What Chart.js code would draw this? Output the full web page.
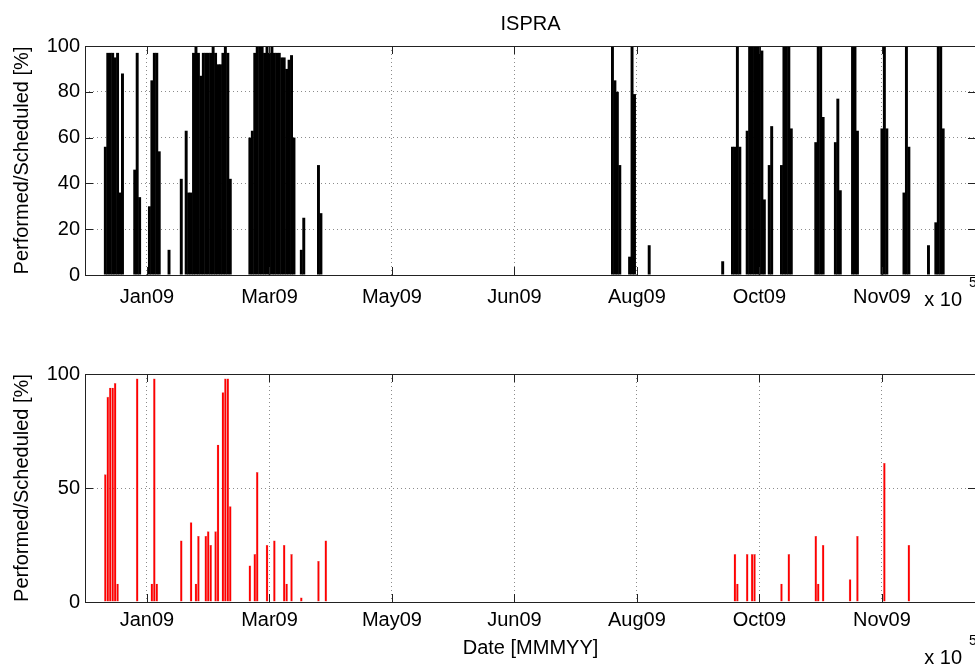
<!DOCTYPE html>
<html>
<head>
<meta charset="utf-8">
<title>ISPRA</title>
<script src="https://cdn.jsdelivr.net/npm/chart.js@4.4.1/dist/chart.umd.min.js"></script>
<style>
    html, body { margin: 0; padding: 0; background: #fff; overflow: hidden; }
    body { width: 975px; height: 668px; position: relative; }
    canvas { position: absolute; left: 0; }
    #performedChart { top: 0; }
    #successChart { top: 330px; }
</style>
</head>
<body>
<canvas id="performedChart" width="980" height="330"></canvas>
<canvas id="successChart" width="980" height="338"></canvas>
<script>
// MATLAB datenum of 31 Dec 2008, so day 1 of 2009 = JAN0 + 1
const JAN0 = 733773;
const X_MIN = 733774.7;
const X_MAX = 734138.4;

// datetick positions (every 50 days) and their labels
const xTickValues = [733800, 733850, 733900, 733950, 734000, 734050, 734100];
const xTickLabels = ['Jan09', 'Mar09', 'May09', 'Jun09', 'Aug09', 'Oct09', 'Nov09'];

// upper panel: day of year and performed/scheduled [%]
const topDays = [10, 11, 12, 13, 14, 15, 16, 17,
    22, 23, 24,
    28, 29, 30, 31, 32,
    36, 41, 43, 44, 45,
    46, 47, 48, 49, 50, 51, 52, 53, 54, 55, 56, 57, 58, 59, 60, 61,
    69, 70, 71, 72, 73, 74, 75, 76, 77, 78, 79, 80, 81, 82, 83, 84, 85, 86, 87,
    90, 91, 97, 98,
    217, 218, 219, 220, 224, 225, 226, 232, 262,
    266, 267, 268, 269,
    272, 273, 274, 275, 276, 277, 278, 279, 281, 282,
    286, 287, 288, 289, 290,
    300, 301, 302, 303, 308, 309, 310,
    315, 316, 317, 327, 328, 329,
    336, 337, 338, 346, 349, 350, 351, 352];
const topValues = [56, 97, 97, 97, 95, 97, 36, 88,
    46, 97, 34,
    30, 85, 97, 97, 54,
    11, 42, 63, 36, 36,
    97, 100, 97, 87, 97, 97, 97, 97, 100, 97, 92, 92, 97, 100, 97, 42,
    60, 63, 97, 100, 100, 100, 97, 100, 97, 100, 97, 97, 97, 95, 95, 90, 94, 96, 60,
    11, 25, 48, 27,
    100, 85, 80, 48, 8, 100, 79, 13, 6,
    56, 56, 100, 56,
    63, 100, 100, 100, 100, 100, 98, 33, 48, 65,
    48, 100, 100, 100, 64,
    58, 100, 100, 69, 58, 77, 37,
    100, 100, 63, 64, 100, 64,
    36, 100, 56, 13, 23, 100, 100, 64];

// lower panel
const bottomDays = [10, 11, 12, 13, 14, 15, 23, 29, 30, 31,
    41, 45, 47, 48, 51, 52, 53, 55, 56, 58, 59, 60, 61,
    69, 71, 72, 76, 79, 83, 84, 86, 90, 97, 100,
    267, 268, 272, 274, 275, 286, 289,
    300, 301, 303, 314, 317, 328, 338];
const bottomValues = [56, 90, 94, 94, 96, 8, 98, 8, 98, 8,
    27, 35, 8, 29, 29, 31, 25, 31, 69, 92, 98, 98, 42,
    16, 21, 57, 25, 27, 25, 8, 21, 2, 18, 27,
    21, 8, 21, 21, 21, 8, 21,
    29, 8, 25, 10, 29, 61, 25];

const FONT = { family: '"Liberation Sans", Arial, Helvetica, sans-serif', size: 20, weight: 'normal' };
const GRID = 'rgba(0,0,0,0.45)';
const TICK = 8;

// box round the axes, inward ticks on all sides, and the x 10^5 exponent
const axisBox = {
    id: 'axisBox',
    afterDraw(chart, args, opts) {
        const { ctx, chartArea: a, scales: { x, y } } = chart;
        ctx.save();
        ctx.strokeStyle = '#222';
        ctx.lineWidth = 1;
        ctx.beginPath();
        x.ticks.forEach(t => {
            const px = Math.round(x.getPixelForValue(t.value)) + 0.5;
            ctx.moveTo(px, a.bottom); ctx.lineTo(px, a.bottom - TICK);
            ctx.moveTo(px, a.top); ctx.lineTo(px, a.top + TICK);
        });
        y.ticks.forEach(t => {
            const py = Math.round(y.getPixelForValue(t.value)) + 0.5;
            ctx.moveTo(a.left, py); ctx.lineTo(a.left + TICK, py);
            ctx.moveTo(a.right, py); ctx.lineTo(a.right - TICK, py);
        });
        ctx.stroke();
        ctx.strokeRect(Math.round(a.left) + 0.5, Math.round(a.top) + 0.5,
            Math.round(a.width), Math.round(a.height));

        ctx.fillStyle = '#000';
        ctx.textBaseline = 'middle';
        ctx.font = '20px "Liberation Sans", Arial, sans-serif';
        ctx.textAlign = 'right';
        ctx.fillText('x 10', a.right - 14, a.bottom + opts.exponentY);
        ctx.font = '14px "Liberation Sans", Arial, sans-serif';
        ctx.textAlign = 'left';
        ctx.fillText('5', a.right - 7, a.bottom + opts.exponentY - 17);
        ctx.restore();
    }
};

function makePanel(canvasId, days, values, cfg) {
    const points = days.map((d, i) => ({ x: JAN0 + d, y: values[i] }));
    return new Chart(document.getElementById(canvasId), {
        type: 'bar',
        data: {
            datasets: [{
                data: points,
                backgroundColor: cfg.fill,
                borderColor: cfg.edge,
                borderWidth: cfg.edgeWidth,
                borderSkipped: false,
                inflateAmount: 0,
                barPercentage: cfg.barWidth,
                categoryPercentage: 1
            }]
        },
        options: {
            responsive: false,
            animation: false,
            events: [],
            layout: { padding: cfg.padding },
            plugins: {
                legend: { display: false },
                tooltip: { enabled: false },
                title: cfg.title || { display: false },
                axisBox: { exponentY: cfg.exponentY }
            },
            scales: {
                x: {
                    type: 'linear',
                    min: X_MIN,
                    max: X_MAX,
                    offset: false,
                    afterBuildTicks: s => { s.ticks = xTickValues.map(v => ({ value: v })); },
                    afterFit: s => { s.height = cfg.xAxisHeight; },
                    ticks: {
                        callback: v => xTickLabels[xTickValues.indexOf(v)],
                        font: FONT,
                        color: '#000',
                        padding: cfg.xLabelPad,
                        maxRotation: 0,
                        autoSkip: false
                    },
                    grid: { offset: false, color: GRID, drawTicks: false },
                    border: { display: false, dash: [1, 3] },
                    title: cfg.xTitle || { display: false }
                },
                y: {
                    min: 0,
                    max: 100,
                    afterFit: s => { s.width = 85; },
                    ticks: { stepSize: cfg.yStep, font: FONT, color: '#000', padding: 5 },
                    grid: { color: GRID, drawTicks: false },
                    border: { display: false, dash: [1, 3] },
                    title: {
                        display: true,
                        text: 'Performed/Scheduled [%]',
                        font: FONT,
                        color: '#000',
                        padding: { top: 10, bottom: 0 }
                    }
                }
            }
        },
        plugins: [axisBox]
    });
}

makePanel('performedChart', topDays, topValues, {
    fill: '#000',
    edge: '#000',
    edgeWidth: 0,
    barWidth: 1.2,
    padding: { left: 0, right: 4, top: 0, bottom: 0 },
    xAxisHeight: 55,
    xLabelPad: 10,
    yStep: 20,
    exponentY: 25,
    title: {
        display: true,
        text: 'ISPRA',
        fullSize: false,
        font: FONT,
        color: '#000',
        padding: { top: 12, bottom: 10 }
    }
});

makePanel('successChart', bottomDays, bottomValues, {
    fill: '#ff0000',
    edge: 'rgba(170,0,0,0.6)',
    edgeWidth: 0.35,
    barWidth: 1.05,
    padding: { left: 0, right: 4, top: 44, bottom: 0 },
    xAxisHeight: 66,
    xLabelPad: 6,
    yStep: 50,
    exponentY: 56,
    xTitle: {
        display: true,
        text: 'Date [MMMYY]',
        font: FONT,
        color: '#000',
        padding: { top: 0, bottom: 8 }
    }
});
</script>
</body>
</html>
